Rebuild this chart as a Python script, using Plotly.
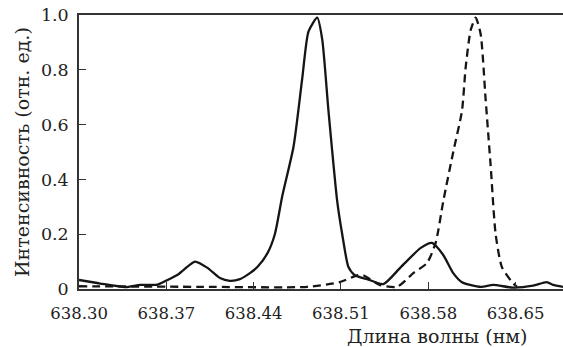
import plotly.graph_objects as go

# Solid spectrum
solid_x = [638.300, 638.317, 638.337, 638.349, 638.363, 638.371, 638.380, 638.384, 638.393,
           638.403, 638.413, 638.421, 638.429, 638.437, 638.443, 638.451, 638.457, 638.463,
           638.472, 638.479, 638.484, 638.491, 638.495, 638.500, 638.507, 638.511, 638.516,
           638.521, 638.531, 638.544, 638.558, 638.574, 638.583, 638.592, 638.600, 638.607,
           638.622, 638.632, 638.648, 638.664, 638.675, 638.680, 638.688]
solid_y = [0.033, 0.02, 0.007, 0.015, 0.016, 0.033, 0.055, 0.07, 0.10,
           0.077, 0.04, 0.03, 0.036, 0.058, 0.08, 0.13, 0.20, 0.34,
           0.52, 0.77, 0.94, 0.99, 0.91, 0.65, 0.32, 0.20, 0.08,
           0.05, 0.036, 0.018, 0.08, 0.15, 0.168, 0.124, 0.058, 0.025,
           0.008, 0.015, 0.005, 0.012, 0.025, 0.015, 0.008]

# Dashed spectrum
dash_x = [638.300, 638.397, 638.483, 638.509, 638.523, 638.528, 638.541, 638.555, 638.568,
          638.579, 638.586, 638.592, 638.600, 638.607, 638.610, 638.614, 638.618, 638.622,
          638.626, 638.630, 638.634, 638.639, 638.647, 638.651]
dash_y = [0.01, 0.008, 0.008, 0.025, 0.05, 0.05, 0.015, 0.008, 0.058,
          0.095, 0.17, 0.32, 0.50, 0.65, 0.81, 0.945, 0.99, 0.93,
          0.69, 0.45, 0.20, 0.08, 0.026, 0.008]

x_ticks = [638.30, 638.37, 638.44, 638.51, 638.58, 638.65]
x_tick_labels = ["638.30", "638.37", "638.44", "638.51", "638.58", "638.65"]
y_ticks = [0, 0.2, 0.4, 0.6, 0.8, 1.0]
y_tick_labels = ["0", "0.2", "0.4", "0.6", "0.8", "1.0"]

FONT = "DejaVu Serif"

fig = go.Figure()
fig.add_trace(go.Scatter(x=solid_x, y=solid_y, mode="lines",
                         line=dict(color="#151515", width=2.3, shape="spline", smoothing=0.6),
                         showlegend=False))
fig.add_trace(go.Scatter(x=dash_x, y=dash_y, mode="lines",
                         line=dict(color="#151515", width=2.3, dash="8px,5px", shape="spline", smoothing=0.6),
                         showlegend=False))

fig.update_layout(
    width=563, height=347,
    margin=dict(l=79, r=0, t=15, b=58, autoexpand=False),
    paper_bgcolor="white", plot_bgcolor="white",
    font=dict(family=FONT, size=17, color="#222"),
    xaxis=dict(range=[638.30, 638.688], tickvals=x_ticks, ticktext=x_tick_labels,
               ticks="inside", ticklen=7, tickwidth=1.2, tickcolor="#333",
               showline=True, linecolor="#333", linewidth=1.5, mirror=True,
               showgrid=False, zeroline=False, tickfont=dict(family=FONT, size=16.5),
               ticklabelstandoff=8, automargin=False),
    yaxis=dict(range=[0, 1.0], tickvals=y_ticks, ticktext=y_tick_labels,
               ticks="inside", ticklen=7, tickwidth=1.2, tickcolor="#333",
               showline=True, linecolor="#333", linewidth=1.5,
               showgrid=False, zeroline=False, tickfont=dict(family=FONT, size=17.5),
               ticklabelstandoff=5, automargin=False),
)

pw, ph = 563 - 79, 347 - 15 - 58
fig.add_annotation(text="Длина волны (нм)", x=(437 - 79) / pw, y=(289 - 336) / ph,
                   xref="paper", yref="paper", xanchor="center", yanchor="middle",
                   showarrow=False, font=dict(family=FONT, size=19))
fig.add_annotation(text="Интенсивность (отн. ед.)", textangle=-90,
                   x=(22 - 79) / pw, y=(289 - 152) / ph,
                   xref="paper", yref="paper", xanchor="center", yanchor="middle",
                   showarrow=False, font=dict(family=FONT, size=19))

fig.write_html("out.html", config={"displayModeBar": False},
               post_script="document.body.style.margin='0px';document.body.style.padding='0px';")
